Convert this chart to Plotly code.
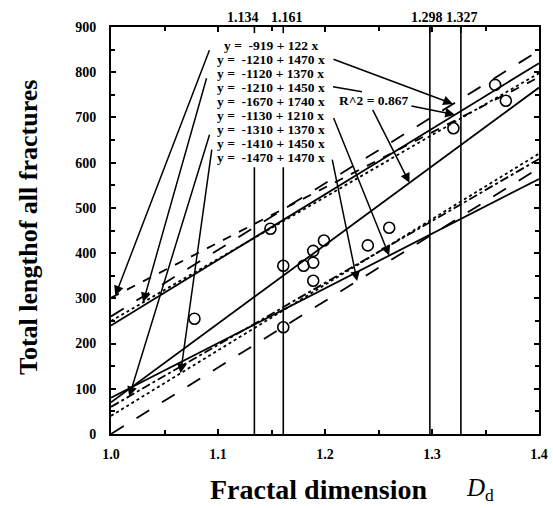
import plotly.graph_objects as go

# ---------------- data ----------------
pts_x = [1.078, 1.149, 1.161, 1.161, 1.180, 1.189, 1.189, 1.189, 1.199, 1.240, 1.260, 1.320, 1.359, 1.369, 1.401]
pts_y = [255, 454, 372, 236, 372, 405, 379, 339, 428, 417, 456, 676, 772, 737, 718]

eq_labels = ["y =  -919 + 122 x", "y =  -1210 + 1470 x", "y =  -1120 + 1370 x",
             "y =  -1210 + 1450 x", "y =  -1670 + 1740 x", "y =  -1130 + 1210 x",
             "y =  -1310 + 1370 x", "y =  -1410 + 1450 x", "y =  -1470 + 1470 x"]
intercepts = [-919, -1210, -1120, -1210, -1670, -1130, -1310, -1410, -1470]
slopes = [1220, 1470, 1370, 1450, 1740, 1210, 1370, 1450, 1470]
line_dash = ["dash", "longdash", "dot", "solid", "solid", "solid", "dashdot", "dot", "longdash"]

vlines_x = [1.134, 1.161, 1.298, 1.327]
vlines_top = [590, 590, 900, 900]
top_labels = ["1.134", "1.161", "1.298", "1.327"]

x_ticks = [1.0, 1.1, 1.2, 1.3, 1.4]
x_ticktext = ["1.0", "1.1", "1.2", "1.3", "1.4"]
y_ticks = [0, 100, 200, 300, 400, 500, 600, 700, 800, 900]

r2_text = "R^2 = 0.867"

# arrows: (equation index, tip x, tail x, tail y)
arrows = [(0, 1.004, 1.0925, 852), (2, 1.030, 1.0897, 790), (6, 1.017, 1.0925, 665),
          (7, 1.065, 1.0944, 632), (1, 1.3196, 1.2065, 830), (3, 1.3215, 1.2794, 726),
          (4, 1.279, 1.2439, 720), (5, 1.26, 1.2075, 702), (8, 1.23, 1.2065, 610)]

XMIN, XMAX = 1.0, 1.4
FONT = "Liberation Serif"

# plot area in pixels
L, R, T, B = 111, 539, 27, 434
PW, PH = R - L, B - T


def px(xp):
    return (xp - L) / PW


def py(yp):
    return (B - yp) / PH


fig = go.Figure()

# regression lines
for a, b, d in zip(intercepts, slopes, line_dash):
    fig.add_trace(go.Scatter(x=[XMIN, XMAX], y=[a + b * XMIN, a + b * XMAX], mode="lines",
                             line=dict(color="black", width=1.8, dash=d), showlegend=False,
                             hoverinfo="skip"))

# vertical lines
for vx, vt in zip(vlines_x, vlines_top):
    fig.add_trace(go.Scatter(x=[vx, vx], y=[0, vt], mode="lines",
                             line=dict(color="black", width=1.6), showlegend=False,
                             hoverinfo="skip"))

# points
fig.add_trace(go.Scatter(x=pts_x, y=pts_y, mode="markers", cliponaxis=False,
                         marker=dict(symbol="circle-open", size=11, color="black",
                                     line=dict(width=1.6, color="black")),
                         showlegend=False))

ann = []
row_top, row_step = 860, 31
for i, lab in enumerate(eq_labels):
    ann.append(dict(x=1.1495, y=row_top - i * row_step, xref="x", yref="y", text=lab,
                    showarrow=False, xanchor="center", yanchor="middle",
                    font=dict(family=FONT, size=13.5, color="black", weight="bold")))
ann.append(dict(x=1.2449, y=737, xref="x", yref="y", text=r2_text, showarrow=False,
                xanchor="center", yanchor="middle",
                font=dict(family=FONT, size=13.5, color="black", weight="bold")))

for idx, tx, ax_, ay_ in arrows:
    ann.append(dict(x=tx, y=intercepts[idx] + slopes[idx] * tx, xref="x", yref="y",
                    ax=ax_, ay=ay_, axref="x", ayref="y", text="", showarrow=True,
                    arrowhead=2, arrowsize=1.3, arrowwidth=1.5, arrowcolor="black",
                    standoff=0, startstandoff=0))

# top labels of the vertical lines
top_label_px = [243, 287, 427, 462]
for lab, xp in zip(top_labels, top_label_px):
    ann.append(dict(x=px(xp), y=py(18), xref="paper", yref="paper", text=lab,
                    showarrow=False, xanchor="center", yanchor="middle",
                    font=dict(family=FONT, size=14, color="black", weight="bold")))

ann.append(dict(x=px(28), y=py(228), xref="paper", yref="paper",
                text="Total lengthof all fractures", showarrow=False, textangle=-90,
                xanchor="center", yanchor="middle",
                font=dict(family=FONT, size=26, color="black", weight="bold")))
ann.append(dict(x=px(318), y=py(489), xref="paper", yref="paper",
                text="Fractal dimension", showarrow=False, xanchor="center",
                yanchor="middle",
                font=dict(family=FONT, size=28, color="black", weight="bold")))
ann.append(dict(x=px(480), y=py(489), xref="paper", yref="paper",
                text="<i>D</i><sub>d</sub>", showarrow=False, xanchor="center",
                yanchor="middle", font=dict(family=FONT, size=25, color="black")))

# line from the 4th equation to the R^2 label (no arrowhead)
shapes = [dict(type="line", xref="x", yref="y", x0=1.2075, y0=768, x1=1.2346, y1=757,
               line=dict(color="black", width=1.5))]
# short tick marks at the vertical-line positions on the top axis
for vx in vlines_x:
    shapes.append(dict(type="line", xref="x", yref="paper", x0=vx, x1=vx, y0=1, y1=0.985,
                       line=dict(color="black", width=1.6)))

axis_common = dict(showline=True, linecolor="black", linewidth=2, showgrid=False,
                   zeroline=False, ticks="inside", ticklen=5, tickwidth=1.5,
                   tickcolor="black", automargin=False)

fig.update_layout(
    width=553, height=508,
    margin=dict(l=L, r=553 - R, t=T, b=508 - B),
    plot_bgcolor="white", paper_bgcolor="white",
    annotations=ann, shapes=shapes,
    xaxis=dict(range=[XMIN, XMAX], tickvals=x_ticks, ticktext=x_ticktext, mirror="ticks",
               ticklabelstandoff=6, tickangle=0,
               minor=dict(ticks="inside", dtick=0.05, ticklen=4, tickcolor="black", tickwidth=1.5),
               tickfont=dict(family=FONT, size=14, color="black", weight="bold"),
               **axis_common),
    yaxis=dict(range=[0, 900], tickvals=y_ticks, mirror="ticks", ticklabelstandoff=10,
               minor=dict(ticks="inside", dtick=50, ticklen=4, tickcolor="black", tickwidth=1.5),
               tickfont=dict(family=FONT, size=14, color="black", weight="bold"),
               **axis_common),
)

fig.write_html("out.html")
